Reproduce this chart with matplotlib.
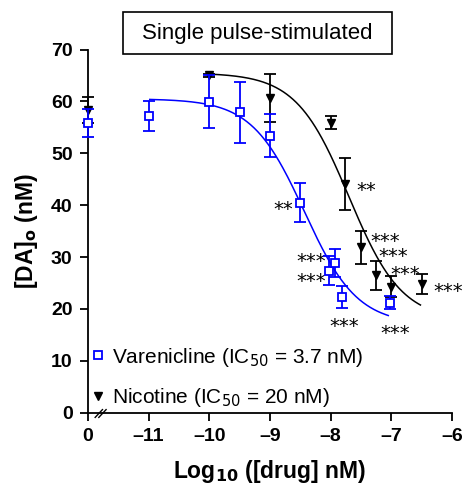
import numpy as np
import matplotlib.pyplot as plt
from matplotlib.lines import Line2D
from matplotlib.patches import Rectangle

plt.rcParams['font.family'] = ['Liberation Sans', 'DejaVu Sans']

# x = log10 concentration; -12 stands for the drug-free control ("0")
var_x = [-12, -11, -10, -9.5, -9, -8.5, -8.02, -7.92, -7.82, -7.02]
var_y = [55.8, 57.2, 59.9, 57.9, 53.4, 40.5, 27.4, 28.9, 22.3, 21.2]
var_err = [2.7, 2.9, 5.1, 5.9, 4.2, 3.7, 2.8, 2.7, 2.2, 1.3]

nic_x = [-12, -10, -9, -8, -7.76, -7.5, -7.25, -7.0, -6.5]
nic_y = [58.3, 65.0, 60.6, 55.9, 44.0, 31.9, 26.5, 24.3, 24.8]
nic_err = [2.5, 0.3, 4.6, 1.2, 5.0, 3.2, 2.8, 2.0, 2.0]

# fitted curves (top, bottom, logIC50)
var_fit = (60.5, 17.0, np.log10(3.7e-9))
nic_fit = (65.5, 17.8, np.log10(20e-9))
var_range = (-10.98, -7.05)
nic_range = (-10.0, -6.52)

# significance stars: (x, y, text)
stars = [(-8.78, 40.0, '**'), (-8.32, 29.9, '***'), (-8.32, 26.0, '***'),
         (-7.77, 17.4, '***'), (-6.93, 16.1, '***'),
         (-7.42, 43.6, '**'), (-7.1, 33.8, '***'), (-6.97, 30.9, '***'),
         (-6.77, 27.5, '***'), (-6.07, 24.2, '***')]

xticks = [-12, -11, -10, -9, -8, -7, -6]
xticklabels = ['0', '\u201311', '\u201310', '\u20139', '\u20138', '\u20137', '\u20136']


def hill(x, top, bottom, logic50):
    return bottom + (top - bottom) / (1 + 10 ** (x - logic50))


fig = plt.figure(figsize=(4.65, 4.83), dpi=100)
ax = fig.add_axes([0.189, 0.1455, 0.783, 0.752])

xs = np.linspace(*var_range, 200)
ax.plot(xs, hill(xs, *var_fit), color='blue', lw=1.1)
xs = np.linspace(*nic_range, 200)
ax.plot(xs, hill(xs, *nic_fit), color='black', lw=1.1)

ax.errorbar(var_x, var_y, yerr=var_err, fmt='s', color='blue', mfc='white',
            mec='blue', ms=6, mew=1.3, capsize=4, elinewidth=1.3, capthick=1.3,
            clip_on=False, zorder=4)
ax.errorbar(nic_x, nic_y, yerr=nic_err, fmt='v', color='black', ms=6,
            capsize=4, elinewidth=1.3, capthick=1.3, clip_on=False, zorder=3)

for x, y, s in stars:
    ax.text(x, y - 0.8, s, ha='center', va='center', fontsize=14,
            family='DejaVu Sans', clip_on=False)

ax.set_xlim(-12, -6)
ax.set_ylim(0, 70)
ax.set_xticks(xticks)
ax.set_xticklabels(xticklabels)
ax.set_yticks(range(0, 71, 10))
for sp in ['top', 'right']:
    ax.spines[sp].set_visible(False)
ax.spines['left'].set_linewidth(1.3)
ax.spines['bottom'].set_linewidth(1.3)
ax.tick_params(width=1.3, length=6, labelsize=14, pad=5)
for lab in ax.get_xticklabels() + ax.get_yticklabels():
    lab.set_fontweight('bold')

ax.set_xlabel('Log$_{\\mathbf{10}}$ ([drug] nM)', fontsize=16.5, fontweight='bold', labelpad=9)
ax.set_ylabel('[DA]$_{\\mathbf{o}}$ (nM)', fontsize=16.5, fontweight='bold', labelpad=8)

# axis break on x axis
for dx in (0, 0.06):
    ax.plot([-11.88 + dx, -11.76 + dx], [-0.9, 0.6], color='black', lw=1,
            clip_on=False)

handles = [Line2D([], [], ls='none', marker='s', ms=6, mfc='white', mec='blue', mew=1.3),
           Line2D([], [], ls='none', marker='v', ms=6, color='black')]
labels = ['Varenicline (IC$_{50}$ = 3.7 nM)', 'Nicotine (IC$_{50}$ = 20 nM)']
ax.legend(handles, labels, loc='lower left', bbox_to_anchor=(-0.02, -0.025),
          frameon=False, fontsize=15, handlelength=0.5,
          handletextpad=0.4, labelspacing=0.85, borderaxespad=0.2)

fig.add_artist(Rectangle((0.2645, 0.888), 0.5785, 0.087, transform=fig.transFigure,
                         fc='white', ec='black', lw=1.2))
fig.text(0.554, 0.931, 'Single pulse-stimulated', ha='center', va='center',
         fontsize=16)

fig.savefig('out.png', dpi=100)
